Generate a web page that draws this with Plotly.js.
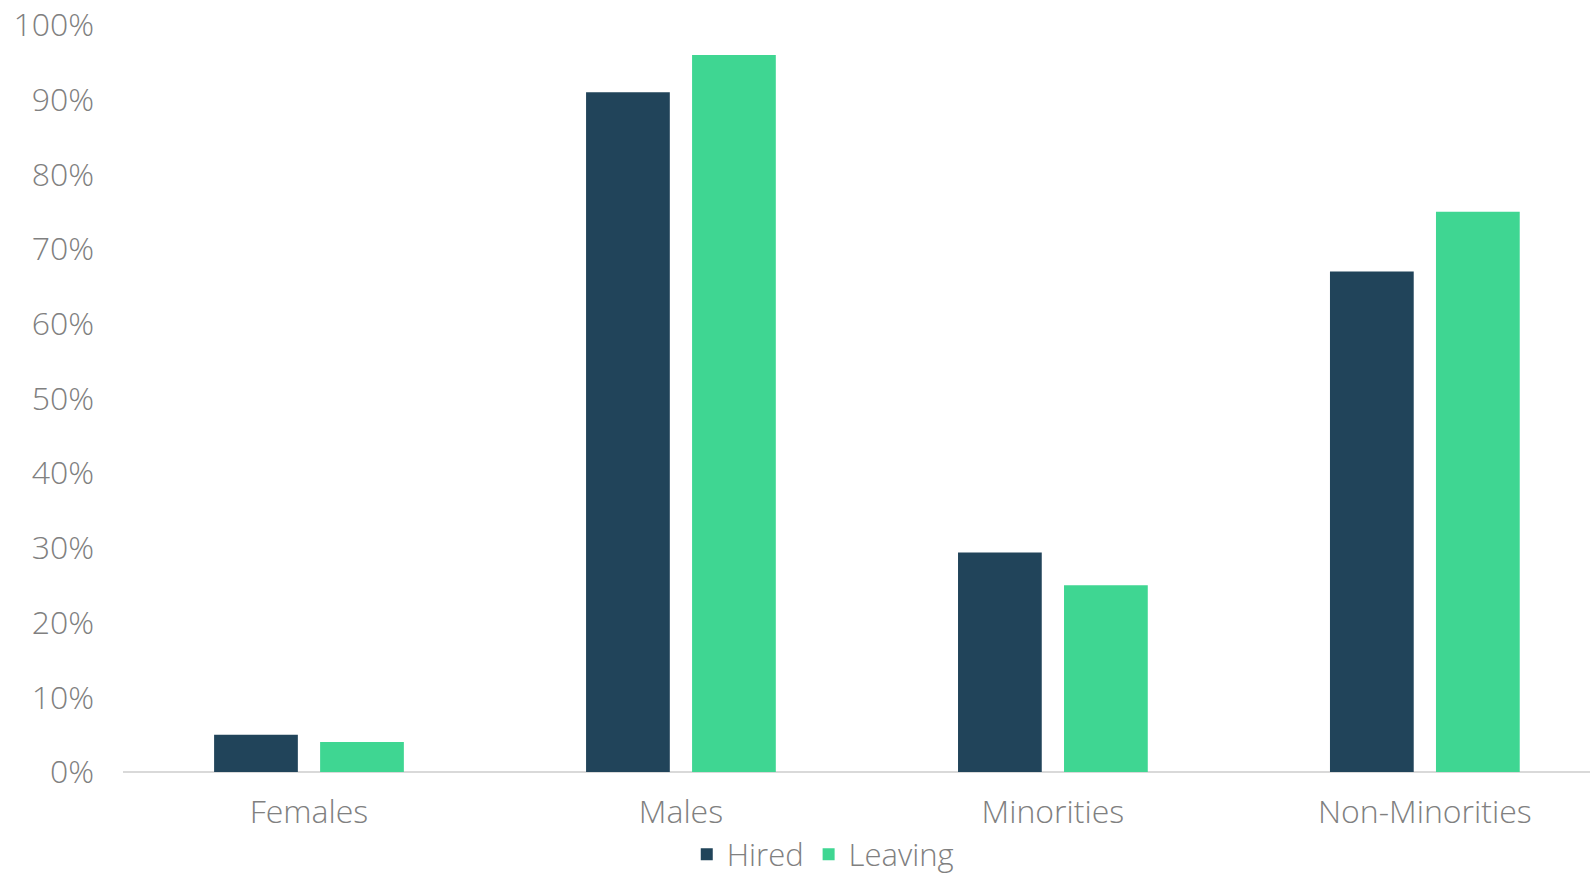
<!DOCTYPE html>
<html>
<head>
<meta charset="utf-8">
<script src="https://cdn.plot.ly/plotly-3.0.1.min.js"></script>
<style>html,body{margin:0;padding:0;background:#fff;}#chart{width:1590px;height:882px;}</style>
</head>
<body>
<div id="chart"></div>
<script>
const categories = ["Females", "Males", "Minorities", "Non-Minorities"];
const hired = [5, 91, 29.4, 67];
const leaving = [4, 96, 25, 75];
const yTicks = [0, 10, 20, 30, 40, 50, 60, 70, 80, 90, 100];
const yTickLabels = ["0%", "10%", "20%", "30%", "40%", "50%", "60%", "70%", "80%", "90%", "100%"];

const fontFamily = "'Open Sans', Lato, sans-serif";
const txt = {size: 32, color: "#808080", family: fontFamily, weight: 300};
const legTxt = {size: 31, color: "#808080", family: fontFamily, weight: 300};
const traces = [
  {type: "bar", name: "Hired", x: categories, y: hired, marker: {color: "#21445A"}},
  {type: "bar", name: "Leaving", x: categories, y: leaving, marker: {color: "#3FD692"}}
];
const layout = {
  width: 1590, height: 882,
  margin: {l: 123, r: 0, t: 25, b: 110, autoexpand: false},
  paper_bgcolor: "#fff", plot_bgcolor: "#fff",
  font: txt,
  barmode: "group", bargap: 0.43, bargroupgap: 0.21,
  showlegend: true,
  legend: {orientation: "h", x: 0.477, xanchor: "center", yref: "container", y: 0.031, yanchor: "middle",
           font: legTxt, itemwidth: 30, tracegroupgap: 0},
  xaxis: {type: "category", range: [-0.5, 3.444], showgrid: false, zeroline: false,
          showline: false, ticks: "", ticklabelstandoff: 18, tickfont: txt},
  yaxis: {range: [0, 100], tickvals: yTicks, ticktext: yTickLabels, showgrid: false,
          zeroline: true, zerolinecolor: "#D9D9D9", zerolinewidth: 1.5, showline: false,
          ticks: "", ticklabelstandoff: 28, tickfont: txt}
};
Plotly.newPlot("chart", traces, layout, {displayModeBar: false, staticPlot: true});
</script>
</body>
</html>
